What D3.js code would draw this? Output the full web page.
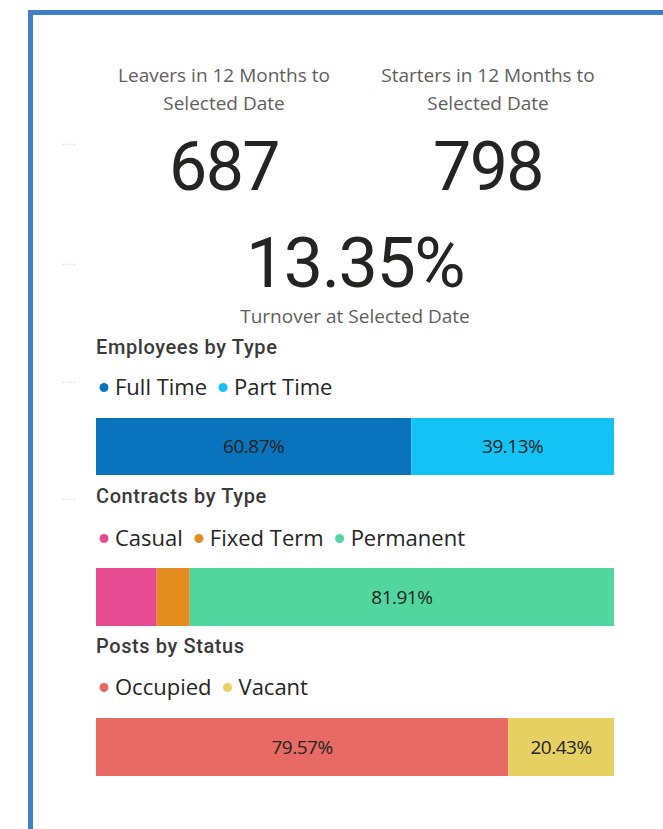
<!DOCTYPE html>
<html>
<head>
<meta charset="utf-8">
<script src="https://cdn.jsdelivr.net/npm/d3@7"></script>
<style>
  html, body { margin: 0; padding: 0; background: #ffffff; }
  svg { display: block; }
</style>
</head>
<body>
<svg id="chart" width="663" height="829"></svg>
<script>
// KPI cards
const kpiTitles = [["Leavers in 12 Months to", "Selected Date"], ["Starters in 12 Months to", "Selected Date"]];
const kpiValues = [687, 798];
const turnoverValue = 13.35;
const turnoverLabel = "Turnover at Selected Date";

// Stacked 100% bars
const employeeTypes = ["Full Time", "Part Time"];
const employeeShares = [60.87, 39.13];
const contractTypes = ["Casual", "Fixed Term", "Permanent"];
const contractShares = [11.72, 6.37, 81.91];
const postStatuses = ["Occupied", "Vacant"];
const postShares = [79.57, 20.43];

const svg = d3.select("#chart");
const titleFont = "Roboto, 'DejaVu Sans', sans-serif";
const bodyFont = "'Open Sans', 'Noto Sans', sans-serif";

// Page frame
svg.append("rect").attr("x", 30.5).attr("y", 12.5).attr("width", 700).attr("height", 900)
  .attr("fill", "none").attr("stroke", "#3F80C7").attr("stroke-width", 5);

// Visual header dots
[145, 265, 383, 500].forEach(y => {
  svg.append("text").attr("x", 62).attr("y", y).attr("font-family", bodyFont)
    .attr("font-size", 10).attr("fill", "#d0d0d0").attr("letter-spacing", 1).text("....");
});

// KPI cards
const kpiCenters = [224, 488];
kpiTitles.forEach((lines, i) => {
  lines.forEach((line, j) => {
    svg.append("text").attr("x", kpiCenters[i]).attr("y", 82 + j * 28)
      .attr("text-anchor", "middle").attr("font-family", bodyFont).attr("font-size", 19)
      .attr("letter-spacing", 0).attr("fill", "#5f5e5c").text(line);
  });
  svg.append("text").attr("x", kpiCenters[i]).attr("y", 190)
    .attr("text-anchor", "middle").attr("font-family", titleFont).attr("font-size", 68)
    .attr("letter-spacing", -1.5).attr("fill", "#252423").text(d3.format("d")(kpiValues[i]));
});

svg.append("text").attr("x", 355).attr("y", 287)
  .attr("text-anchor", "middle").attr("font-family", titleFont).attr("font-size", 70)
  .attr("letter-spacing", -1.5).attr("fill", "#252423").text(d3.format(".2f")(turnoverValue) + "%");
svg.append("text").attr("x", 355).attr("y", 323)
  .attr("text-anchor", "middle").attr("font-family", bodyFont).attr("font-size", 19)
  .attr("letter-spacing", 0).attr("fill", "#5f5e5c").text(turnoverLabel);

// Shared horizontal scale for all stacked bars
const x = d3.scaleLinear().domain([0, 100]).range([96, 614]);

function stackedBar(cfg) {
  const g = svg.append("g");
  g.append("text").attr("x", 96).attr("y", cfg.titleY)
    .attr("font-family", titleFont).attr("font-weight", 500).attr("font-size", 20)
    .attr("letter-spacing", 0.6).attr("fill", "#3a3a3a").text(cfg.title);

  const color = d3.scaleOrdinal().domain(cfg.categories).range(cfg.colors);

  // Legend
  let lx = 104;
  cfg.categories.forEach((c, i) => {
    g.append("circle").attr("cx", lx).attr("cy", cfg.legendY - 7.5).attr("r", 4.5).attr("fill", color(c));
    const t = g.append("text").attr("x", lx + 11).attr("y", cfg.legendY)
      .attr("font-family", bodyFont).attr("font-size", 22).attr("letter-spacing", 0)
      .attr("fill", "#252423").text(c);
    lx += 11 + t.node().getComputedTextLength() + 16;
  });

  // Segments
  const offsets = d3.cumsum([0].concat(cfg.values));
  const segs = cfg.categories.map((c, i) => ({ c, v: cfg.values[i], x0: offsets[i], x1: offsets[i] + cfg.values[i] }));
  g.selectAll("rect.seg").data(segs).join("rect").attr("class", "seg")
    .attr("x", d => x(d.x0)).attr("width", d => x(d.x1) - x(d.x0))
    .attr("y", cfg.barY).attr("height", cfg.barH).attr("fill", d => color(d.c));
  g.selectAll("text.lbl").data(segs.filter(d => d.v >= 15)).join("text").attr("class", "lbl")
    .attr("x", d => (x(d.x0) + x(d.x1)) / 2).attr("y", cfg.barY + cfg.barH / 2 + 6.5)
    .attr("text-anchor", "middle").attr("font-family", bodyFont).attr("font-size", 19)
    .attr("letter-spacing", -0.5).attr("fill", "#252423").text(d => d3.format(".2f")(d.v) + "%");
}

stackedBar({ title: "Employees by Type", titleY: 354, legendY: 395, barY: 418, barH: 57,
  categories: employeeTypes, values: employeeShares, colors: ["#0A73BE", "#14C3F5"] });
stackedBar({ title: "Contracts by Type", titleY: 503, legendY: 546, barY: 568, barH: 58,
  categories: contractTypes, values: contractShares, colors: ["#E64B91", "#E38C1F", "#52D69F"] });
stackedBar({ title: "Posts by Status", titleY: 653, legendY: 695, barY: 718, barH: 58,
  categories: postStatuses, values: postShares, colors: ["#E76A64", "#E6D062"] });
</script>
</body>
</html>
